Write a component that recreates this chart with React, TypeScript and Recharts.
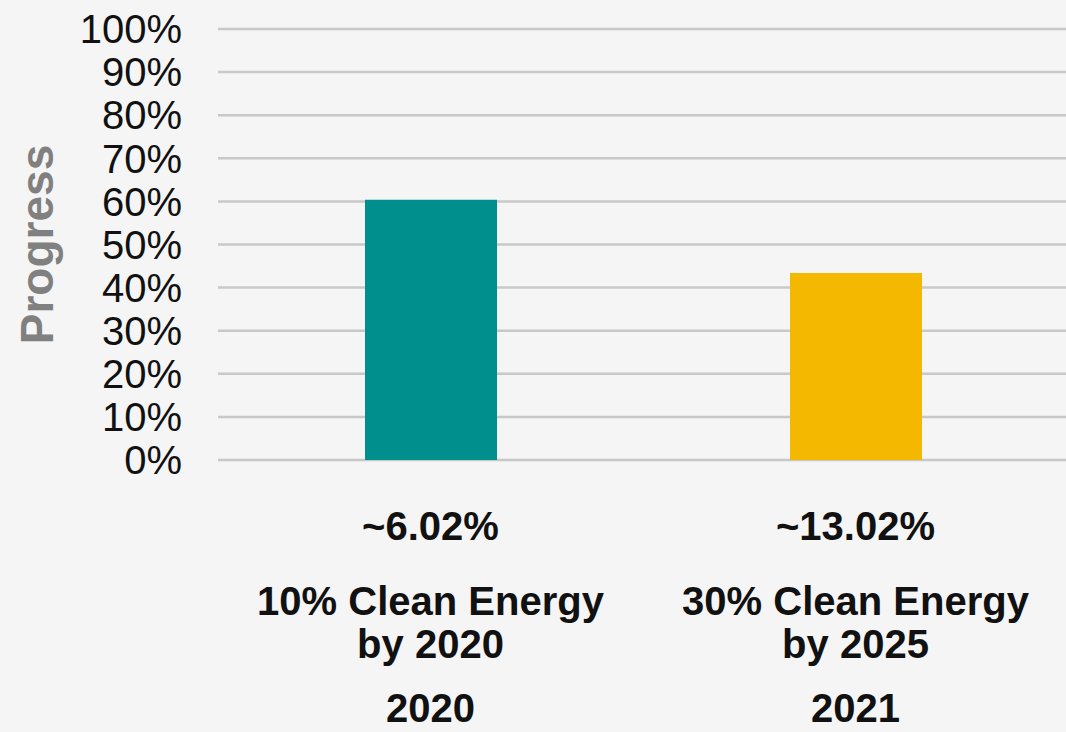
import React from "react";
import { BarChart, Bar, XAxis, YAxis, CartesianGrid, Cell, Label } from "recharts";

const categories = ["2020", "2021"];
const progressValues = [60.4, 43.4];
const achievedLabels = ["~6.02%", "~13.02%"];
const targetLine1 = ["10% Clean Energy", "30% Clean Energy"];
const targetLine2 = ["by 2020", "by 2025"];
const barColors = ["#008F8C", "#F5B800"];
const yTicks = [0, 10, 20, 30, 40, 50, 60, 70, 80, 90, 100];

const data = categories.map((c, i) => ({
  year: c,
  value: progressValues[i],
  achieved: achievedLabels[i],
  t1: targetLine1[i],
  t2: targetLine2[i],
}));

const FONT = "'Liberation Sans', Arial, sans-serif";

const XTick = (props: any) => {
  const { x, y, payload, index } = props;
  const d = data[index] ?? data.find((r) => r.year === payload.value);
  const fs = 40;
  const common = {
    textAnchor: "middle" as const,
    fontFamily: FONT,
    fontWeight: 700,
    fontSize: fs,
    fill: "#111",
  };
  return (
    <g>
      <text x={x} y={y + 58 + 14} {...common}>{d.achieved}</text>
      <text x={x} y={y + 133 + 14} {...common}>{d.t1}</text>
      <text x={x} y={y + 176 + 14} {...common}>{d.t2}</text>
      <text x={x} y={y + 240 + 14} {...common}>{d.year}</text>
    </g>
  );
};

export default function App() {
  return (
    <div style={{ position: "absolute", left: 0, top: 0, width: 1066, height: 732, background: "#f5f5f5" }}>
      <BarChart
        width={1066}
        height={732}
        data={data}
        margin={{ top: 29, right: -2, bottom: 0, left: 0 }}
        barSize={132}
      >
        <CartesianGrid vertical={false} stroke="#c8c8c8" strokeWidth={2.5} />
        <XAxis
          dataKey="year"
          axisLine={false}
          tickLine={false}
          height={272}
          tick={<XTick />}
          interval={0}
        />
        <YAxis
          domain={[0, 100]}
          ticks={yTicks}
          interval={0}
          width={218}
          axisLine={false}
          tickLine={false}
          tickSize={0}
          tickMargin={36}
          tickFormatter={(v: number) => `${v}%`}
          tick={{ fontFamily: FONT, fontSize: 40, fill: "#111" }}
        >
          <Label
            value="Progress"
            angle={-90}
            position="insideLeft"
            offset={0}
            dx={37}
            style={{ fontFamily: FONT, fontSize: 46, fontWeight: 700, fill: "#808080", textAnchor: "middle" }}
          />
        </YAxis>
        <Bar dataKey="value" isAnimationActive={false}>
          {data.map((_, i) => (
            <Cell key={i} fill={barColors[i]} />
          ))}
        </Bar>
      </BarChart>
    </div>
  );
}
